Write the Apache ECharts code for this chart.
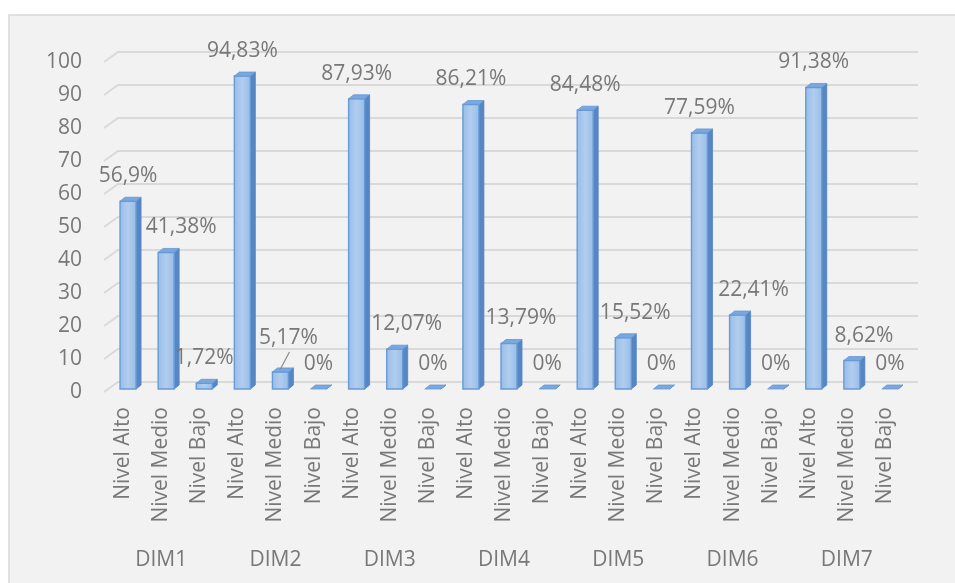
<!DOCTYPE html>
<html>
<head>
<meta charset="utf-8">
<script src="https://cdn.jsdelivr.net/npm/echarts@6/dist/echarts.min.js"></script>
<style>
html,body{margin:0;padding:0;background:#fff;}
#chart{width:955px;height:583px;}
</style>
</head>
<body>
<div id="chart"></div>
<script>
// ---- data ----
const dims = ['DIM1', 'DIM2', 'DIM3', 'DIM4', 'DIM5', 'DIM6', 'DIM7'];
const levels = ['Nivel Alto', 'Nivel Medio', 'Nivel Bajo'];
const alto  = [56.9, 94.83, 87.93, 86.21, 84.48, 77.59, 91.38];
const medio = [41.38, 5.17, 12.07, 13.79, 15.52, 22.41, 8.62];
const bajo  = [1.72, 0, 0, 0, 0, 0, 0];
const yTicks = [0, 10, 20, 30, 40, 50, 60, 70, 80, 90, 100];

// flatten to one category per bar
const categories = [];
const values = [];
dims.forEach((d, i) => {
  levels.forEach(l => categories.push(l));
  values.push(alto[i], medio[i], bajo[i]);
});
const barData = values.map((v, i) => [i, v]);
const wallData = yTicks.map(v => [0, v]);

// label nudges as placed in the original (Excel moved "Medio" labels right)
const labelShift = { 1: [15, 0], 4: [8, -9], 7: [12, 0], 10: [12, 0], 13: [12, 0], 16: [16, 0], 19: [12, 0] };
const leaderLine = { 4: true };

const TEXT = '#787878';
const FONT = 'Open Sans';
const FS = 21;
const DX = 14, DY = -10;      // back-wall offset
const BDX = 5, BDY = -4;      // bar depth
const BW = 16;                // bar front width

function fmt(v) { return String(v).replace('.', ',') + '%'; }

function renderWall(params, api) {
  const v = api.value(1);
  const band = api.size([1, 0])[0];
  const p0 = api.coord([0, v]);
  const p1 = api.coord([categories.length - 1, v]);
  const x0 = p0[0] - band / 2, x1 = p1[0] + band / 2, y = p0[1];
  return {
    type: 'polyline',
    shape: { points: [[x0, y], [x0 + DX, y + DY], [x1 + DX, y + DY]] },
    style: { stroke: '#d9d9d9', lineWidth: 2, fill: null },
    silent: true
  };
}

function renderBar(params, api) {
  const idx = api.value(0), v = api.value(1);
  const c = api.coord([idx, v]);
  const b = api.coord([idx, 0]);
  const left = c[0] - 3;
  const yTop = c[1] - 3;
  const yBot = b[1] - 3;
  const right = left + BW;
  const children = [];
  // side face
  children.push({
    type: 'polygon',
    shape: { points: [[right, yTop], [right + BDX, yTop + BDY], [right + BDX, yBot + BDY], [right, yBot]] },
    style: { fill: '#5786c4', stroke: '#5282c0', lineWidth: 0.8 }
  });
  // front face
  if (yBot - yTop > 0.5) {
    children.push({
      type: 'rect',
      shape: { x: left, y: yTop, width: BW, height: yBot - yTop },
      style: {
        fill: new echarts.graphic.LinearGradient(0, 0, 1, 0, [
          { offset: 0, color: '#97bce8' },
          { offset: 0.5, color: '#b1cdee' },
          { offset: 1, color: '#97bce8' }
        ]),
        stroke: '#679bd8', lineWidth: 1.4
      }
    });
  }
  // top face
  children.push({
    type: 'polygon',
    shape: { points: [[left, yTop], [left + BDX, yTop + BDY], [right + BDX, yTop + BDY], [right, yTop]] },
    style: { fill: '#79a7de', stroke: '#6597d4', lineWidth: 0.8 }
  });
  // label
  const sh = labelShift[idx] || [0, 0];
  const lx = left + BW / 2 + sh[0];
  const ly = yTop - 25 + sh[1];
  if (leaderLine[idx]) {
    children.push({
      type: 'line',
      shape: { x1: left + BW / 2, y1: yTop - 3, x2: lx + 1, y2: ly + 14 },
      style: { stroke: '#8a8a8a', lineWidth: 1.2 }
    });
  }
  children.push({
    type: 'text',
    style: {
      text: fmt(v), x: lx, y: ly,
      textAlign: 'center', textVerticalAlign: 'middle',
      fill: TEXT, font: FS + 'px "' + FONT + '"'
    },
    z2: 10
  });
  return { type: 'group', children: children };
}

const chart = echarts.init(document.getElementById('chart'), null, { renderer: 'canvas' });
chart.setOption({
  backgroundColor: '#ffffff',
  animation: false,
  textStyle: { fontFamily: FONT },
  graphic: [{
    type: 'rect',
    shape: { x: 9, y: 15, width: 980, height: 600 },
    style: { fill: '#f2f2f2', stroke: '#d9d9d9', lineWidth: 1.5 },
    z: -10, silent: true
  }],
  grid: { left: 104, right: 51, top: 62, bottom: 191, containLabel: false },
  xAxis: [{
    type: 'category',
    data: categories,
    axisLine: { show: false },
    axisTick: { show: false },
    axisLabel: { rotate: 90, interval: 0, margin: 15, color: TEXT, fontSize: FS, fontFamily: FONT }
  }, {
    type: 'category',
    data: dims,
    position: 'bottom',
    offset: 152,
    axisLine: { show: false },
    axisTick: { show: false },
    axisLabel: { interval: 0, margin: 4, color: TEXT, fontSize: FS, fontFamily: FONT, lineHeight: 24 }
  }],
  yAxis: {
    type: 'value', min: 0, max: 100, interval: 10,
    axisLine: { show: false }, axisTick: { show: false },
    splitLine: { show: false },
    axisLabel: { margin: 22, color: TEXT, fontSize: FS, fontFamily: FONT }
  },
  series: [{
    type: 'custom',
    name: 'wall',
    xAxisIndex: 0,
    renderItem: renderWall,
    data: wallData,
    encode: { x: 0, y: 1 },
    z: 1,
    silent: true
  }, {
    type: 'custom',
    name: 'bars',
    xAxisIndex: 0,
    renderItem: renderBar,
    data: barData,
    encode: { x: 0, y: 1 },
    z: 5
  }]
});
</script>
</body>
</html>
